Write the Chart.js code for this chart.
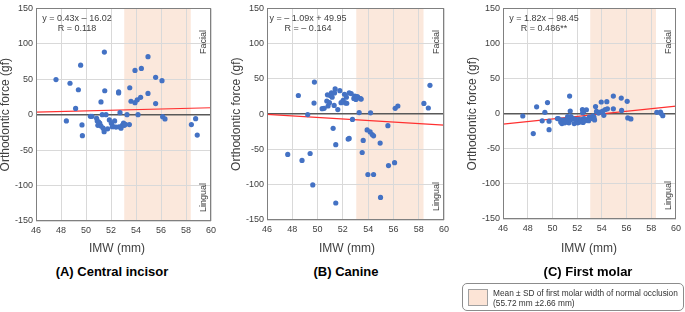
<!DOCTYPE html>
<html><head><meta charset="utf-8">
<script src="https://cdn.jsdelivr.net/npm/chart.js@4/dist/chart.umd.min.js"></script>
<style>
html,body{margin:0;padding:0;background:#fff;width:685px;height:312px;overflow:hidden;font-family:"Liberation Sans",Arial,sans-serif;}
canvas{position:absolute;top:0;}
.ptitle{position:absolute;font-weight:bold;font-size:13px;color:#000;white-space:nowrap;transform:translate(-50%,-50%);}
.legend{position:absolute;left:462px;top:283px;width:220px;height:26px;border:1px solid #8c8c8c;border-radius:5px;}
.swatch{position:absolute;left:5px;top:5px;width:18px;height:15px;background:#FCE4D6;border:1px solid #a0a0a0;}
.ltext{position:absolute;left:30px;top:5px;font-size:8.3px;line-height:9.8px;color:#333;white-space:nowrap;}
</style>
</head><body>
<canvas id="cA" width="228" height="260" style="left:0px"></canvas>
<canvas id="cB" width="228" height="260" style="left:228px"></canvas>
<canvas id="cC" width="230" height="260" style="left:455px"></canvas>
<div class="ptitle" style="left:112px;top:271px">(A) Central incisor</div>
<div class="ptitle" style="left:346px;top:271px">(B) Canine</div>
<div class="ptitle" style="left:588px;top:271px">(C) First molar</div>
<div class="legend"><div class="swatch"></div><div class="ltext">Mean ± SD of first molar width of normal occlusion<br>(55.72 mm ±2.66 mm)</div></div>
<script>
// ---------- DATA ----------
const panelNames = ["(A) Central incisor", "(B) Canine", "(C) First molar"];
const xTicks = [46, 48, 50, 52, 54, 56, 58, 60];
const yTicks = [-150, -100, -50, 0, 50, 100, 150];

const imwA = [47.6,48.43,48.72,49.17,49.39,49.57,49.68,49.71,50.35,50.48,50.85,50.9,50.95,51.0,51.1,51.2,51.2,51.47,51.5,51.3,51.6,51.37,51.45,51.73,51.87,52.03,52.19,52.29,52.1,52.4,52.61,52.61,52.64,52.8,52.72,52.9,53.0,53.07,53.15,53.28,53.47,53.5,53.6,53.92,53.92,54.1,54.16,54.37,54.43,54.96,54.96,55.57,55.57,56.08,56.13,56.32,58.43,58.77,58.9];
const forceA = [49.5,-8.8,44.4,8.8,35.2,69.9,-14.4,-29.6,-2.3,-2.3,-5,-9,-15,-10,-12,-16,18,88.4,33.8,0,0,-19,-24,-20,-7.4,-12,-16.7,-8.8,-17,-17.5,32.4,30.6,-17,-19,2.8,-15,-12,-15,-13.5,0,-14,38,19,62.5,17,21,0,24.5,65.3,81.9,30,52.8,15.7,48,-2.8,-6,-13.9,-5.6,-28.7];

const imwB = [47.64,48.48,48.77,49.22,49.41,49.62,49.72,49.75,50.36,50.52,50.73,50.78,50.83,50.94,51.0,51.1,51.15,51.23,51.31,51.34,51.39,51.44,51.44,51.6,51.76,51.86,52.02,52.13,52.2,52.28,52.31,52.42,52.5,52.5,52.66,52.76,52.87,52.95,53.03,53.1,53.17,53.29,53.4,53.45,53.53,53.61,53.92,53.98,54.16,54.19,54.32,54.43,54.43,54.95,54.98,55.56,55.61,56.09,56.14,56.35,58.41,58.76,58.89];
const forceB = [-57.1,26.5,-65.5,-0.5,-55.7,-100.3,15.8,45.5,7.9,8.4,18.6,27.4,11.6,16.3,26.5,30.2,24.2,-20,12.5,30.2,35.8,-43.2,-125.9,6.5,33.4,16.3,19.5,28.3,16,24,15.5,-35.3,-34.4,30.2,29.3,-7.4,22.3,25.5,20.9,25,24.5,2.3,22,21.5,-54.3,-37.2,-22.3,-85.5,-25.1,1.9,-28.8,-85.5,-30.7,-40.9,-118,-16.3,-72.9,-68.7,8.4,11.6,15.3,8.8,40.9];

const imwC = [47.6,48.45,48.72,49.17,49.39,49.6,49.73,49.73,50.4,50.48,50.67,50.72,50.77,50.93,51.0,51.07,51.23,51.28,51.33,51.39,51.44,51.47,51.5,51.68,51.76,51.9,52.0,52.05,52.13,52.21,52.27,52.35,52.43,52.45,52.53,52.48,52.56,52.64,52.75,52.85,52.93,52.98,53.09,53.2,53.28,53.36,53.41,53.49,53.57,53.73,53.89,53.95,54.08,54.16,54.27,54.4,54.45,54.93,54.93,55.57,55.6,56.05,56.1,56.35,58.45,58.75,58.78,58.93];
const forceC = [-3.3,-28.3,9.8,-10.2,1.9,15.8,-10.7,-22.8,-7,-7,-12,-9,-14,-9,-13,-10,-4,-7,-13,25.1,3.7,-9,-4,-7,-14,-8,-10,-13,-8,-12,-11,-8.5,6,1.4,3.5,-12.5,-7,-10,5.6,-8,-10,-5,-7,-4.5,-3,-5,-8.8,10.2,3.3,0.9,2.3,16.7,3.7,-2.3,6,17.2,7,25.1,7,22.3,4.6,17.6,-6,-7.4,1.9,2.3,0.5,-2.8];

const slopes = [0.43, -1.09, 1.82];
const intercepts = [-16.02, 49.95, -98.45];
const eqLabels = ["y = 0.43x \u2013 16.02", "y = \u2013 1.09x + 49.95", "y = 1.82x \u2013 98.45"];
const rLabels = ["R = 0.118", "R = \u2013 0.164", "R = 0.486**"];
const normalMean = 55.72, normalSD = 2.66;
const xTitle = "IMW (mm)";
const yTitle = "Orthodontic force (gf)";
const topLabel = "Facial", bottomLabel = "Lingual";

// ---------- LAYOUT ----------
const panels = [
  {id:'cA', xs:imwA, ys:forceA, h:260, top:5, bottom:221, left:36, right:17, xTitleX:117},
  {id:'cB', xs:imwB, ys:forceB, h:260, top:4, bottom:220, left:39, right:12, xTitleX:119},
  {id:'cC', xs:imwC, ys:forceC, h:260, top:4, bottom:219, left:48, right:7, xTitleX:134}
];

Chart.defaults.font.family = '"Liberation Sans", Arial, sans-serif';
Chart.defaults.color = '#404040';

const deco = {
  id:'deco',
  beforeDraw(chart, args, o){
    const {ctx, chartArea:a} = chart, x = chart.scales.x;
    const x0 = x.getPixelForValue(normalMean - normalSD), x1 = x.getPixelForValue(normalMean + normalSD);
    ctx.save(); ctx.fillStyle = '#FBE8DC'; ctx.fillRect(x0, a.top, x1 - x0, a.bottom - a.top); ctx.restore();
  },
  afterDraw(chart, args, o){
    const {ctx, chartArea:a} = chart;
    ctx.save();
    ctx.strokeStyle = '#808080'; ctx.lineWidth = 1;
    ctx.strokeRect(Math.round(a.left) + 0.5, Math.round(a.top) + 0.5, Math.round(a.right - a.left) - 1, Math.round(a.bottom - a.top) - 1);
    ctx.fillStyle = '#404040';
    ctx.textAlign = 'center'; ctx.textBaseline = 'middle';
    ctx.font = '9px "Liberation Sans", Arial, sans-serif';
    const ex = a.left + 41;
    ctx.fillText(o.eq, ex, a.top + 10);
    ctx.fillText(o.r, ex, a.top + 20.5);
    // x title
    ctx.font = '12px "Liberation Sans", Arial, sans-serif';
    ctx.fillText(xTitle, o.xTitleX, 249);
    // y title
    ctx.save();
    ctx.translate(a.left - 30, (a.top + a.bottom) / 2);
    ctx.rotate(-Math.PI / 2);
    ctx.fillText(yTitle, 0, 0);
    ctx.restore();
    // Facial / Lingual
    ctx.font = '9px "Liberation Sans", Arial, sans-serif';
    ctx.save(); ctx.translate(a.right - 7, a.top + 33.5); ctx.rotate(-Math.PI / 2); ctx.fillText(topLabel, 0, 0); ctx.restore();
    ctx.save(); ctx.translate(a.right - 7, a.bottom - 23.5); ctx.rotate(-Math.PI / 2); ctx.fillText(bottomLabel, 0, 0); ctx.restore();
    ctx.restore();
  }
};

panels.forEach((p, i) => {
  const pts = p.xs.map((v, k) => ({x: v, y: p.ys[k]}));
  const xMin = xTicks[0], xMax = xTicks[xTicks.length - 1];
  const fit = [xMin, xMax].map(v => ({x: v, y: slopes[i] * v + intercepts[i]}));
  new Chart(document.getElementById(p.id), {
    type: 'scatter',
    data: {datasets: [
      {data: pts, backgroundColor: '#4472C4', borderWidth: 0, pointRadius: 2.6, pointHoverRadius: 2.6},
      {data: fit, showLine: true, borderColor: '#FF3030', borderWidth: 1.2, pointRadius: 0, fill: false}
    ]},
    options: {
      responsive: false, animation: false, devicePixelRatio: 1,
      layout: {padding: {top: p.top, right: p.right, left: 0, bottom: 0}},
      plugins: {legend: {display: false}, tooltip: {enabled: false},
        deco: {eq: eqLabels[i], r: rLabels[i], xTitleX: p.xTitleX}},
      scales: {
        x: {type: 'linear', min: xMin, max: xMax,
            afterBuildTicks: s => { s.ticks = xTicks.map(v => ({value: v})); },
            ticks: {font: {size: 9}, color: '#404040', padding: 4},
            grid: {color: '#D9D9D9', drawTicks: false},
            border: {display: false},
            afterFit: s => { s.height = p.h - p.bottom; }},
        y: {type: 'linear', min: yTicks[0], max: yTicks[yTicks.length - 1],
            afterBuildTicks: s => { s.ticks = yTicks.map(v => ({value: v})); },
            ticks: {font: {size: 9}, color: '#404040', padding: 3},
            grid: {color: c => c.tick && c.tick.value === 0 ? '#595959' : '#D9D9D9',
                   lineWidth: c => c.tick && c.tick.value === 0 ? 1.4 : 1, drawTicks: false},
            border: {display: false},
            afterFit: s => { s.width = p.left; }}
      }
    },
    plugins: [deco]
  });
});
</script>
</body></html>
